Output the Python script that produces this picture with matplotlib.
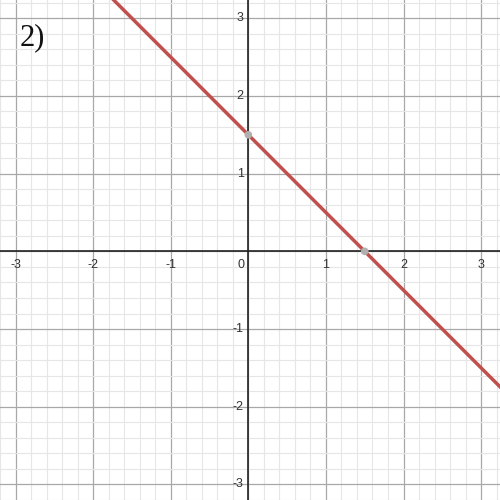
import numpy as np
import matplotlib.pyplot as plt

# line y = -x + 1.5
slope = -1.0
intercept = 1.5
points_x = [0.0, 1.5]
points_y = [1.5, 0.0]
x_ticks = [-3, -2, -1, 1, 2, 3]
y_ticks = [-3, -2, -1, 1, 2, 3]
label = '2)'

fig = plt.figure(figsize=(5, 5), dpi=100)
ax = fig.add_axes([0, 0, 1, 1])
ax.set_xlim(-3.184, 3.243)
ax.set_ylim(-3.19, 3.235)

ax.set_xticks(np.arange(-3, 4, 1))
ax.set_yticks(np.arange(-3, 4, 1))
ax.set_xticks(np.arange(-3.2, 3.4, 0.2), minor=True)
ax.set_yticks(np.arange(-3.2, 3.4, 0.2), minor=True)
ax.grid(which='minor', color='#e6e6e6', linewidth=0.8)
ax.grid(which='major', color='#a8a8a8', linewidth=0.9)
ax.tick_params(which='both', length=0, labelbottom=False, labelleft=False)
for s in ax.spines.values():
    s.set_visible(False)
ax.set_axisbelow(True)

ax.axhline(0, color='#222222', linewidth=1.2)
ax.axvline(0, color='#222222', linewidth=1.2)

xs = np.array(ax.get_xlim())
ax.plot(xs, slope * xs + intercept, color='#c0504d', linewidth=2.5, zorder=3)
ax.scatter(points_x, points_y, s=30, color='#b0b0b0', zorder=4, edgecolors='none')

tfont = dict(fontsize=9, color='#333333', family='Liberation Sans')
for t in x_ticks:
    ax.text(t, -0.17, str(t), ha='center', va='center', **tfont)
for t in y_ticks:
    ax.text(-0.06, t, str(t), ha='right', va='center', **tfont)
ax.text(-0.1, -0.17, '0', ha='center', va='center', **tfont)

ax.text(-2.95, 2.75, label, fontsize=22, family='Liberation Serif', color='#111111',
        ha='left', va='center')

fig.savefig('out.png', dpi=100)
